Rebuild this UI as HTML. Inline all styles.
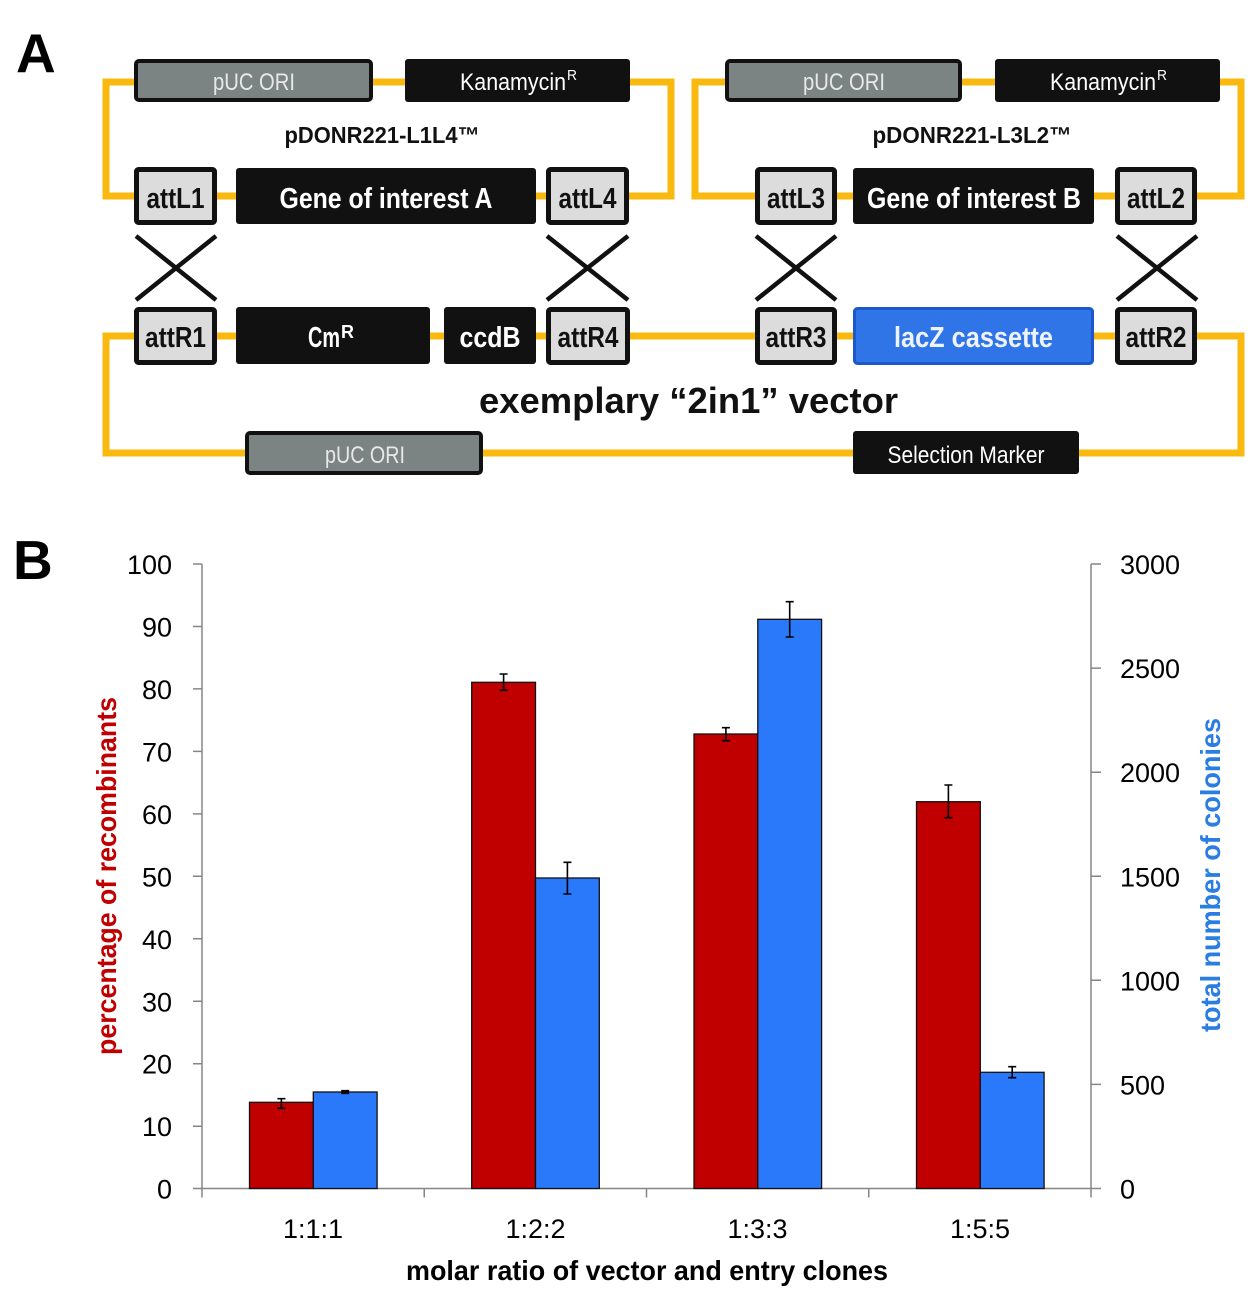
<!DOCTYPE html>
<html><head><meta charset="utf-8"><style>
html,body{margin:0;padding:0;background:#fff;}
svg{display:block;}
text{font-family:"Liberation Sans",Arial,sans-serif;}
</style></head><body>
<svg width="1260" height="1306" viewBox="0 0 1260 1306" xmlns="http://www.w3.org/2000/svg">
<rect width="1260" height="1306" fill="#fff"/>

<!-- Panel letters -->
<text x="16" y="72" font-size="55" font-weight="bold" fill="#000">A</text>
<text x="13" y="579" font-size="55" font-weight="bold" fill="#000">B</text>

<!-- Yellow backbones -->
<g fill="none" stroke="#f9b90f" stroke-width="7">
<path d="M106 82 H671 V196 H106 Z"/>
<path d="M695 82 H1241 V196 H695 Z"/>
<path d="M106 336 H1241 V453 H106 Z"/>
</g>

<!-- Row 1 -->
<rect x="136" y="61" width="235" height="39" rx="3" fill="#7b8383" stroke="#111" stroke-width="4"/>
<rect x="405" y="59" width="225" height="43" rx="3" fill="#111"/>
<rect x="727" y="61" width="233" height="39" rx="3" fill="#7b8383" stroke="#111" stroke-width="4"/>
<rect x="995" y="59" width="225" height="43" rx="3" fill="#111"/>
<text x="254" y="90" font-size="24" fill="#e8e8e8" text-anchor="middle" textLength="82" lengthAdjust="spacingAndGlyphs">pUC ORI</text>
<text x="844" y="90" font-size="24" fill="#e8e8e8" text-anchor="middle" textLength="82" lengthAdjust="spacingAndGlyphs">pUC ORI</text>
<text x="460" y="90" font-size="24" fill="#fff" textLength="106" lengthAdjust="spacingAndGlyphs">Kanamycin</text>
<text x="567" y="80" font-size="15" fill="#fff" textLength="10" lengthAdjust="spacingAndGlyphs">R</text>
<text x="1050" y="90" font-size="24" fill="#fff" textLength="106" lengthAdjust="spacingAndGlyphs">Kanamycin</text>
<text x="1157" y="80" font-size="15" fill="#fff" textLength="10" lengthAdjust="spacingAndGlyphs">R</text>

<text x="382" y="143" font-size="23" font-weight="bold" fill="#111" text-anchor="middle" textLength="195" lengthAdjust="spacingAndGlyphs">pDONR221-L1L4™</text>
<text x="972" y="143" font-size="23" font-weight="bold" fill="#111" text-anchor="middle" textLength="199" lengthAdjust="spacingAndGlyphs">pDONR221-L3L2™</text>

<!-- Row 2 -->
<g stroke="#111" stroke-width="5" fill="#dcdcdc">
<rect x="136.5" y="169.5" width="78" height="53" rx="2"/>
<rect x="548.5" y="169.5" width="78" height="53" rx="2"/>
<rect x="757.5" y="169.5" width="77" height="53" rx="2"/>
<rect x="1117.5" y="169.5" width="77" height="53" rx="2"/>
</g>
<rect x="236" y="168" width="300" height="56" rx="3" fill="#111"/>
<rect x="853" y="168" width="241" height="56" rx="3" fill="#111"/>
<g font-size="29" font-weight="bold" text-anchor="middle">
<text x="175.5" y="208" fill="#111" textLength="58" lengthAdjust="spacingAndGlyphs">attL1</text>
<text x="587.5" y="208" fill="#111" textLength="58" lengthAdjust="spacingAndGlyphs">attL4</text>
<text x="796" y="208" fill="#111" textLength="58" lengthAdjust="spacingAndGlyphs">attL3</text>
<text x="1156" y="208" fill="#111" textLength="58" lengthAdjust="spacingAndGlyphs">attL2</text>
<text x="386" y="208" fill="#fff" textLength="213" lengthAdjust="spacingAndGlyphs">Gene of interest A</text>
<text x="974" y="208" fill="#fff" textLength="214" lengthAdjust="spacingAndGlyphs">Gene of interest B</text>
</g>

<!-- Crosses -->
<g stroke="#111" stroke-width="4.5" stroke-linecap="butt">
<line x1="136" y1="236" x2="216" y2="300"/><line x1="216" y1="236" x2="136" y2="300"/>
<line x1="547" y1="236" x2="628" y2="300"/><line x1="628" y1="236" x2="547" y2="300"/>
<line x1="756" y1="236" x2="836" y2="300"/><line x1="836" y1="236" x2="756" y2="300"/>
<line x1="1117" y1="236" x2="1197" y2="300"/><line x1="1197" y1="236" x2="1117" y2="300"/>
</g>

<!-- Row 3 -->
<g stroke="#111" stroke-width="5" fill="#dcdcdc">
<rect x="136.5" y="309.5" width="78" height="53" rx="2"/>
<rect x="548.5" y="309.5" width="79" height="53" rx="2"/>
<rect x="757.5" y="309.5" width="77" height="53" rx="2"/>
<rect x="1117.5" y="309.5" width="77" height="53" rx="2"/>
</g>
<rect x="236" y="307" width="194" height="57" rx="3" fill="#111"/>
<rect x="444" y="307" width="92" height="57" rx="3" fill="#111"/>
<rect x="854.5" y="308.5" width="238" height="55" rx="3" fill="#2f75e8" stroke="#1b58cc" stroke-width="3"/>
<text x="175.5" y="347" font-size="29" font-weight="bold" fill="#111" text-anchor="middle" textLength="61" lengthAdjust="spacingAndGlyphs">attR1</text>
<text x="588" y="347" font-size="29" font-weight="bold" fill="#111" text-anchor="middle" textLength="61" lengthAdjust="spacingAndGlyphs">attR4</text>
<text x="796" y="347" font-size="29" font-weight="bold" fill="#111" text-anchor="middle" textLength="61" lengthAdjust="spacingAndGlyphs">attR3</text>
<text x="1156" y="347" font-size="29" font-weight="bold" fill="#111" text-anchor="middle" textLength="61" lengthAdjust="spacingAndGlyphs">attR2</text>
<text x="308" y="347" font-size="29" font-weight="bold" fill="#fff" textLength="32" lengthAdjust="spacingAndGlyphs">Cm</text>
<text x="341" y="338" font-size="18" font-weight="bold" fill="#fff" textLength="13" lengthAdjust="spacingAndGlyphs">R</text>
<text x="490" y="347" font-size="29" font-weight="bold" fill="#fff" text-anchor="middle" textLength="61" lengthAdjust="spacingAndGlyphs">ccdB</text>
<text x="973.5" y="347" font-size="29" font-weight="bold" fill="#eef3ff" text-anchor="middle" textLength="159" lengthAdjust="spacingAndGlyphs">lacZ cassette</text>

<text x="688.5" y="413" font-size="36" font-weight="bold" fill="#111" text-anchor="middle" textLength="419" lengthAdjust="spacingAndGlyphs">exemplary “2in1” vector</text>

<!-- Row 4 -->
<rect x="247" y="433" width="234" height="40" rx="3" fill="#7b8383" stroke="#111" stroke-width="4"/>
<rect x="853" y="431" width="226" height="43" rx="3" fill="#111"/>
<text x="365" y="463" font-size="24" fill="#e8e8e8" text-anchor="middle" textLength="80" lengthAdjust="spacingAndGlyphs">pUC ORI</text>
<text x="966" y="463" font-size="24" fill="#fff" text-anchor="middle" textLength="157" lengthAdjust="spacingAndGlyphs">Selection Marker</text>

<!-- ===== Chart ===== -->
<g stroke="#868686" stroke-width="1.5" fill="none">
<line x1="202" y1="564" x2="202" y2="1189"/>
<line x1="1091" y1="564" x2="1091" y2="1189"/>
<line x1="193" y1="1188.5" x2="1101" y2="1188.5"/>
<path d="M193 564H202M193 626.5H202M193 688.9H202M193 751.4H202M193 813.9H202M193 876.3H202M193 938.8H202M193 1001.3H202M193 1063.7H202M193 1126.2H202"/>
<path d="M1091 564H1101M1091 668.1H1101M1091 772.2H1101M1091 876.3H1101M1091 980.3H1101M1091 1084.4H1101"/>
<path d="M202 1188.5V1197.5M424.25 1188.5V1197.5M646.5 1188.5V1197.5M868.75 1188.5V1197.5M1091 1188.5V1197.5"/>
</g>

<g font-size="27" fill="#000" text-anchor="end">
<text x="172" y="574">100</text>
<text x="172" y="636.5">90</text>
<text x="172" y="698.9">80</text>
<text x="172" y="761.4">70</text>
<text x="172" y="823.9">60</text>
<text x="172" y="886.3">50</text>
<text x="172" y="948.8">40</text>
<text x="172" y="1011.3">30</text>
<text x="172" y="1073.7">20</text>
<text x="172" y="1136.2">10</text>
<text x="172" y="1198.5">0</text>
</g>
<g font-size="27" fill="#000">
<text x="1120" y="574">3000</text>
<text x="1120" y="678.1">2500</text>
<text x="1120" y="782.2">2000</text>
<text x="1120" y="886.3">1500</text>
<text x="1120" y="990.3">1000</text>
<text x="1120" y="1094.4">500</text>
<text x="1120" y="1198.5">0</text>
</g>
<g font-size="27" fill="#000" text-anchor="middle">
<text x="313" y="1238">1:1:1</text>
<text x="535.5" y="1238">1:2:2</text>
<text x="757.5" y="1238">1:3:3</text>
<text x="980" y="1238">1:5:5</text>
</g>

<text x="406" y="1280" font-size="28" font-weight="bold" fill="#000" textLength="482" lengthAdjust="spacingAndGlyphs">molar ratio of vector and entry clones</text>
<text transform="translate(116,876) rotate(-90)" x="0" y="0" font-size="28" font-weight="bold" fill="#c00000" text-anchor="middle" textLength="358" lengthAdjust="spacingAndGlyphs">percentage of recombinants</text>
<text transform="translate(1220,875) rotate(-90)" x="0" y="0" font-size="28" font-weight="bold" fill="#2a7de1" text-anchor="middle" textLength="314" lengthAdjust="spacingAndGlyphs">total number of colonies</text>

<g stroke="#111" stroke-width="1.3">
<rect x="249.5" y="1102.3" width="63.8" height="86.2" fill="#c00000"/>
<rect x="313.3" y="1092" width="63.8" height="96.5" fill="#2a79fb"/>
<rect x="471.7" y="682.3" width="63.8" height="506.2" fill="#c00000"/>
<rect x="535.5" y="878" width="63.8" height="310.5" fill="#2a79fb"/>
<rect x="694" y="734" width="63.8" height="454.5" fill="#c00000"/>
<rect x="757.8" y="619.3" width="63.8" height="569.2" fill="#2a79fb"/>
<rect x="916.5" y="801.7" width="63.8" height="386.8" fill="#c00000"/>
<rect x="980.3" y="1072.3" width="63.8" height="116.2" fill="#2a79fb"/>
</g>

<g stroke="#000" stroke-width="1.6" fill="none">
<path d="M281.4 1098.7V1108.3M277.4 1098.7H285.4M277.4 1108.3H285.4"/>
<path d="M345.2 1090.7V1093.3M341.2 1090.7H349.2M341.2 1093.3H349.2"/>
<path d="M503.6 674V690.3M499.6 674H507.6M499.6 690.3H507.6"/>
<path d="M567.4 862.3V894M563.4 862.3H571.4M563.4 894H571.4"/>
<path d="M725.9 727.7V740.7M721.9 727.7H729.9M721.9 740.7H729.9"/>
<path d="M789.7 601.7V637M785.7 601.7H793.7M785.7 637H793.7"/>
<path d="M948.4 785V817.7M944.4 785H952.4M944.4 817.7H952.4"/>
<path d="M1012.2 1066.7V1077.7M1008.2 1066.7H1016.2M1008.2 1077.7H1016.2"/>
</g>
</svg>
</body></html>
